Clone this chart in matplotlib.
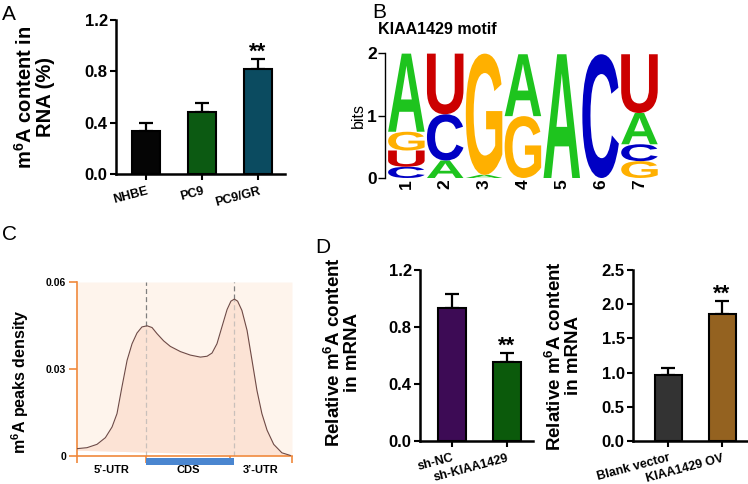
import numpy as np
import matplotlib
matplotlib.use('Agg')
import matplotlib.pyplot as plt
from matplotlib.textpath import TextPath
from matplotlib.font_manager import FontProperties
from matplotlib.patches import PathPatch, Rectangle
from matplotlib.transforms import Affine2D, blended_transform_factory

# ---------------- data ----------------
# Panel A
a_groups = ['NHBE', 'PC9', 'PC9/GR']
a_means = [0.335, 0.485, 0.818]
a_errs = [0.062, 0.068, 0.078]
a_colors = ['#050505', '#0c5a12', '#0b4b60']

# Panel B (motif logo) - letters stacked bottom to top with heights in bits
motif_positions = ['1', '2', '3', '4', '5', '6', '7']
motif_letters = [['C', 'U', 'G', 'A'], ['A', 'C', 'U'], ['A', 'G'], ['G', 'A'],
                 ['A'], ['C'], ['G', 'C', 'A', 'U']]
motif_heights = [[0.18, 0.26, 0.30, 1.25], [0.28, 0.74, 0.97], [0.05, 1.94], [0.99, 0.99],
                 [1.98], [1.98], [0.27, 0.27, 0.50, 0.94]]
letter_colors = {'A': '#1ec41e', 'C': '#0000c4', 'G': '#ffb000', 'U': '#cc0000'}

# Panel C (metagene profile)
c_x = [0.0, 0.0465, 0.093, 0.132, 0.163, 0.186, 0.209, 0.233, 0.256, 0.279, 0.302,
       0.326, 0.349, 0.372, 0.403, 0.434, 0.481, 0.527, 0.574, 0.605, 0.628, 0.651,
       0.674, 0.698, 0.716, 0.732, 0.747, 0.767, 0.791, 0.814, 0.837, 0.860, 0.884,
       0.915, 0.953, 0.992]
c_y = [0.00253, 0.00287, 0.00402, 0.00632, 0.0100, 0.0146, 0.0238, 0.0330, 0.0387,
       0.0424, 0.0445, 0.0449, 0.0443, 0.0422, 0.0397, 0.0378, 0.0360, 0.0348, 0.0341,
       0.0344, 0.0355, 0.0387, 0.0445, 0.0505, 0.0534, 0.0541, 0.0534, 0.0502, 0.0433,
       0.0330, 0.0226, 0.0146, 0.0089, 0.0040, 0.0011, 0.0002]
c_peaks = [0.321, 0.729]
c_region_bounds = [0.0, 0.321, 0.71, 1.0]
c_regions = ['5\u2019-UTR', 'CDS', '3\u2019-UTR']
c_cds = (0.321, 0.729)
c_yticks = [0, 0.03, 0.06]
c_yticklabels = ['0', '0.03', '0.06']

# Panel D
d1_groups = ['sh-NC', 'sh-KIAA1429']
d1_means = [0.933, 0.556]
d1_errs = [0.097, 0.062]
d1_colors = ['#3d0b55', '#0b5a0b']

d2_groups = ['Blank vector', 'KIAA1429 OV']
d2_means = [0.96, 1.86]
d2_errs = [0.11, 0.19]
d2_colors = ['#333333', '#946220']

# ---------------- style ----------------
plt.rcParams['font.family'] = ['Liberation Sans', 'DejaVu Sans']
plt.rcParams['mathtext.fontset'] = 'custom'
plt.rcParams['mathtext.rm'] = 'Liberation Sans'
plt.rcParams['mathtext.bf'] = 'Liberation Sans:bold'
plt.rcParams['mathtext.it'] = 'Liberation Sans:italic'

W, H = 748, 484
fig = plt.figure(figsize=(W / 100, H / 100), dpi=100)


def px_axes(l, r, t, b):
    return fig.add_axes([l / W, 1 - b / H, (r - l) / W, (b - t) / H])


def bar_panel(ax, groups, means, errs, colors, ylim, yticks, fmt, xlim, star_idx):
    x = np.arange(len(groups))
    ax.bar(x, means, width=0.5, color=colors, edgecolor='black', linewidth=1.5, zorder=2)
    ax.errorbar(x, means, yerr=[np.zeros(len(x)), errs], fmt='none', ecolor='black',
                elinewidth=1.6, capsize=5.2, capthick=1.6, zorder=1)
    ax.set_xlim(*xlim)
    ax.set_ylim(*ylim)
    ax.set_yticks(yticks)
    ax.set_yticklabels([fmt.format(v) for v in yticks], fontsize=12, fontweight='bold')
    ax.set_xticks(x)
    ax.set_xticklabels(groups, rotation=15, ha='right', rotation_mode='anchor',
                       fontsize=9, fontweight='bold')
    for s in ['top', 'right']:
        ax.spines[s].set_visible(False)
    for s in ['left', 'bottom']:
        ax.spines[s].set_linewidth(1.8)
    ax.spines['left'].set_bounds(ylim[0], yticks[-1])
    ax.tick_params(axis='both', direction='out', length=4, width=1.5, pad=2)
    ax.tick_params(axis='x', pad=4)
    if star_idx is not None:
        ax.annotate('**', xy=(star_idx, means[star_idx] + errs[star_idx]),
                    xytext=(0, 1), textcoords='offset points', ha='center',
                    va='baseline', fontsize=16, fontweight='bold')


# ---------------- Panel A ----------------
axA = px_axes(116, 285, 20, 174)
bar_panel(axA, a_groups, a_means, a_errs, a_colors, (0, 1.2), [0, 0.4, 0.8, 1.2],
          '{:.1f}', (-0.536, 2.48), 2)
axA.set_ylabel('m$^{\\mathbf{6}}$A content in\nRNA (%)', fontsize=14.5,
               fontweight='bold', linespacing=1.0)
axA.yaxis.set_label_coords(-0.36, 0.5)

# ---------------- Panel B ----------------
axB = px_axes(385, 662, 53, 178)
axB.set_xlim(0.45, 7.58)
axB.set_ylim(0, 2)
fp = FontProperties(family='Liberation Sans', weight='bold')
col_w = 0.94
for i, (letters, heights) in enumerate(zip(motif_letters, motif_heights)):
    xc = i + 1
    y0 = 0.0
    for L, h in zip(letters, heights):
        tp = TextPath((0, 0), L, size=1, prop=fp)
        bb = tp.get_extents()
        tr = (Affine2D().translate(-bb.x0, -bb.y0)
              .scale(col_w / bb.width, h / bb.height)
              .translate(xc - col_w / 2, y0))
        patch = PathPatch(tr.transform_path(tp), facecolor=letter_colors[L],
                          edgecolor='none', transform=axB.transData, clip_on=False)
        axB.add_patch(patch)
        y0 += h
for s in ['top', 'right', 'bottom']:
    axB.spines[s].set_visible(False)
axB.spines['left'].set_linewidth(1.0)
axB.set_yticks([0, 1, 2])
axB.set_yticklabels(['0', '1', '2'], fontsize=12.5, fontweight='bold')
axB.tick_params(axis='y', length=5, width=1.0, pad=1)
axB.set_xticks(range(1, 8))
axB.set_xticklabels(motif_positions, rotation=90, fontsize=12.5, fontweight='bold')
axB.tick_params(axis='x', length=0, pad=1)
axB.set_ylabel('bits', fontsize=11.5)
axB.yaxis.set_label_coords(-0.07, 0.5)
fig.text(378 / W, 1 - 22 / H, 'KIAA1429 motif', fontsize=11.5, fontweight='bold',
         ha='left', va='top')

# ---------------- Panel C ----------------
orange = '#f0893c'
axC = px_axes(77, 292, 282, 456)
axC.set_xlim(0, 1)
axC.set_ylim(0, 0.06)
cx = np.array(c_x)
cy = np.array(c_y)
base_l, base_r = 0.0020, 0.0
base = base_l + (base_r - base_l) * cx
axC.fill_between([0, 1], [base_l, base_r], [0.06, 0.06], color='#fef4ec', lw=0, zorder=0)
axC.fill_between(cx, base, cy, color='#fce3d5', lw=0, zorder=1)
axC.plot(cx, cy, color='#6e4a46', lw=0.8, zorder=3)
pk = np.interp(c_peaks, cx, cy)
for px_, pv in zip(c_peaks, pk):
    axC.plot([px_, px_], [pv, 0.06], ls=(0, (4, 2.5)), color='#7f7f7f', lw=0.9, zorder=2)
    axC.plot([px_, px_], [0, pv], ls=(0, (4, 2.5)), color='#c9c0bb', lw=0.9, zorder=2)
for s in ['top', 'right']:
    axC.spines[s].set_visible(False)
for s in ['left', 'bottom']:
    axC.spines[s].set_color(orange)
    axC.spines[s].set_linewidth(1.2)
axC.set_yticks(c_yticks)
axC.set_yticklabels(c_yticklabels, fontsize=7.5, fontweight='bold')
axC.tick_params(axis='y', colors=orange, labelcolor='black', length=6, width=1.2, pad=2)
axC.set_xticks(c_region_bounds)
axC.set_xticklabels([])
axC.tick_params(axis='x', colors=orange, length=5, width=1.2)
trC = blended_transform_factory(axC.transData, axC.transAxes)
axC.add_patch(Rectangle((c_cds[0], -0.052), c_cds[1] - c_cds[0], 0.04,
                        transform=trC, clip_on=False, facecolor='#4a86d0',
                        edgecolor='none', zorder=5))
for name, lo, hi in zip(c_regions, c_region_bounds[:-1], c_region_bounds[1:]):
    axC.text((lo + hi) / 2, -0.078, name, transform=trC, ha='center', va='center',
             fontsize=8, fontweight='bold')
axC.set_ylabel('m$^{\\mathbf{6}}$A peaks density', fontsize=11.5, fontweight='bold')
axC.yaxis.set_label_coords(-0.215, 0.43)

# ---------------- Panel D ----------------
axD1 = px_axes(420, 533, 270, 441)
bar_panel(axD1, d1_groups, d1_means, d1_errs, d1_colors, (0, 1.2), [0, 0.4, 0.8, 1.2],
          '{:.1f}', (-0.58, 1.47), 1)
axD1.set_ylabel('Relative m$^{\\mathbf{6}}$A content\nin mRNA', fontsize=13.5,
                fontweight='bold', linespacing=1.0)
axD1.yaxis.set_label_coords(-0.52, 0.52)

axD2 = px_axes(633, 748, 270, 441)
bar_panel(axD2, d2_groups, d2_means, d2_errs, d2_colors, (0, 2.5),
          [0, 0.5, 1.0, 1.5, 2.0, 2.5], '{:.1f}', (-0.648, 1.48), 1)
axD2.set_ylabel('Relative m$^{\\mathbf{6}}$A content\nin mRNA', fontsize=13.5,
                fontweight='bold', linespacing=1.0)
axD2.yaxis.set_label_coords(-0.44, 0.5)

# ---------------- panel letters ----------------
for lab, x, y in [('A', 2, 5), ('B', 372, 3), ('C', 2, 225), ('D', 315, 238)]:
    fig.text(x / W, 1 - y / H, lab, fontsize=15, ha='left', va='top')

fig.savefig('out.png', dpi=100)
